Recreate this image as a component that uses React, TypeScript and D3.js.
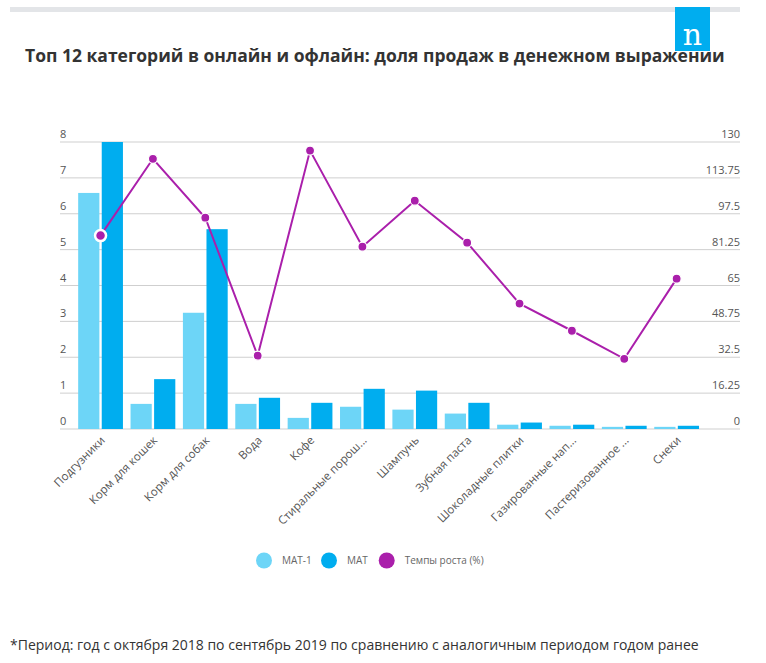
import React, { useEffect, useRef } from 'react';
import * as d3 from 'd3';

const categories = [
  'Подгузники', 'Корм для кошек', 'Корм для собак', 'Вода', 'Кофе',
  'Стиральные порош...', 'Шампунь', 'Зубная паста', 'Шоколадные плитки',
  'Газированные нап...', 'Пастеризованное ...', 'Снеки',
];
const mat1 = [6.58, 0.70, 3.24, 0.70, 0.31, 0.62, 0.54, 0.43, 0.12, 0.09, 0.06, 0.06];
const mat = [8.0, 1.39, 5.57, 0.87, 0.73, 1.12, 1.07, 0.73, 0.18, 0.12, 0.09, 0.09];
const growth = [87.6, 122.4, 95.7, 33.2, 126.1, 82.6, 103.4, 84.4, 56.8, 44.5, 31.8, 68.1];
const leftTicks = [0, 1, 2, 3, 4, 5, 6, 7, 8];
const rightTicks = [0, 16.25, 32.5, 48.75, 65, 81.25, 97.5, 113.75, 130];
const seriesNames = ['MAT-1', 'MAT', 'Темпы роста (%)'];
const colors = ['#6dd5f7', '#00adef', '#aa1fab'];

export default function App() {
  const svgRef = useRef<SVGSVGElement>(null);
  const width = 766;
  const height = 663;

  useEffect(() => {
    const svg = d3.select(svgRef.current);
    svg.selectAll('*').remove();

    const top = 142, bottom = 429, gridLeft = 60, gridRight = 740;

    // top decoration + logo
    svg.append('rect').attr('x', 10).attr('y', 7).attr('width', 730).attr('height', 5).attr('fill', '#e3e5e8');
    svg.append('rect').attr('x', 675).attr('y', 7).attr('width', 35).attr('height', 44).attr('fill', '#00adef');
    svg.append('text')
      .attr('x', 692.5).attr('y', 45)
      .attr('text-anchor', 'middle')
      .style('font-family', 'DejaVu Serif, serif')
      .style('font-size', '30px')
      .style('fill', '#fff')
      .text('n');

    svg.append('text')
      .attr('x', 25).attr('y', 62)
      .style('font-family', 'Open Sans, sans-serif')
      .style('font-weight', 'bold')
      .style('font-size', '17.5px')
      .style('fill', '#333')
      .text('Топ 12 категорий в онлайн и офлайн: доля продаж в денежном выражении');

    const x = d3.scaleBand<string>().domain(categories).range([74.5, 702.7]).paddingInner(0.145).paddingOuter(0.07);
    const xSub = d3.scaleBand<number>().domain([0, 1]).range([0, x.bandwidth()]).paddingInner(0.1);
    const yLeft = d3.scaleLinear().domain([0, 8]).range([bottom, top]);
    const yRight = d3.scaleLinear().domain([0, 130]).range([bottom, top]);

    const labelStyle = (sel: any) => sel
      .style('font-family', 'Open Sans, sans-serif')
      .style('font-size', '11px')
      .style('fill', '#555');

    // grid
    svg.append('g').selectAll('line').data(leftTicks).enter().append('line')
      .attr('x1', gridLeft).attr('x2', gridRight)
      .attr('y1', d => yLeft(d)).attr('y2', d => yLeft(d))
      .attr('stroke', '#cfcfcf').attr('stroke-width', 1);

    svg.append('g').selectAll('text').data(leftTicks).enter().append('text')
      .attr('x', 60).attr('y', d => yLeft(d) - 4)
      .call(labelStyle)
      .text(d => d);

    svg.append('g').selectAll('text').data(rightTicks).enter().append('text')
      .attr('x', 740).attr('y', d => yRight(d) - 4)
      .attr('text-anchor', 'end')
      .call(labelStyle)
      .text(d => d);

    // bars
    [mat1, mat].forEach((vals, si) => {
      svg.append('g').selectAll('rect').data(vals).enter().append('rect')
        .attr('x', (_, i) => (x(categories[i]) as number) + (xSub(si) as number))
        .attr('y', d => yLeft(d))
        .attr('width', xSub.bandwidth())
        .attr('height', d => bottom - yLeft(d))
        .attr('fill', colors[si]);
    });

    // x labels
    svg.append('g').selectAll('text').data(categories).enter().append('text')
      .attr('transform', d => `translate(${(x(d) as number) + x.bandwidth() / 2 + 5}, 441) rotate(-45)`)
      .attr('text-anchor', 'end')
      .call(labelStyle)
      .style('font-size', '11.5px')
      .text(d => d);

    // growth line
    const line = d3.line<number>()
      .x((_, i) => (x(categories[i]) as number) + x.bandwidth() / 2)
      .y(d => yRight(d));
    svg.append('path')
      .datum(growth)
      .attr('d', line)
      .attr('fill', 'none')
      .attr('stroke', colors[2])
      .attr('stroke-width', 2);

    svg.append('g').selectAll('circle').data(growth).enter().append('circle')
      .attr('cx', (_, i) => (x(categories[i]) as number) + x.bandwidth() / 2)
      .attr('cy', d => yRight(d))
      .attr('r', (_, i) => i === 0 ? 5.5 : 4.5)
      .attr('fill', colors[2])
      .attr('stroke', '#fff')
      .attr('stroke-width', (_, i) => i === 0 ? 2.5 : 1.2);

    // legend
    const legendX = [264, 329, 386.7];
    const lg = svg.append('g').selectAll('g').data(seriesNames).enter().append('g');
    lg.append('circle')
      .attr('cx', (_, i) => legendX[i]).attr('cy', 560.5).attr('r', 8)
      .attr('fill', (_, i) => colors[i]);
    lg.append('text')
      .attr('x', (_, i) => legendX[i] + 18).attr('y', 564)
      .style('font-family', 'Open Sans, sans-serif')
      .style('font-size', '10px')
      .style('fill', '#666')
      .text(d => d);

    svg.append('text')
      .attr('x', 10).attr('y', 650)
      .style('font-family', 'Open Sans, sans-serif')
      .style('font-size', '14px')
      .style('fill', '#333')
      .text('*Период: год с октября 2018 по сентябрь 2019 по сравнению с аналогичным периодом годом ранее');
  }, []);

  return (
    <div style={{ position: 'absolute', left: 0, top: 0 }}>
      <svg ref={svgRef} width={width} height={height}></svg>
    </div>
  );
}
